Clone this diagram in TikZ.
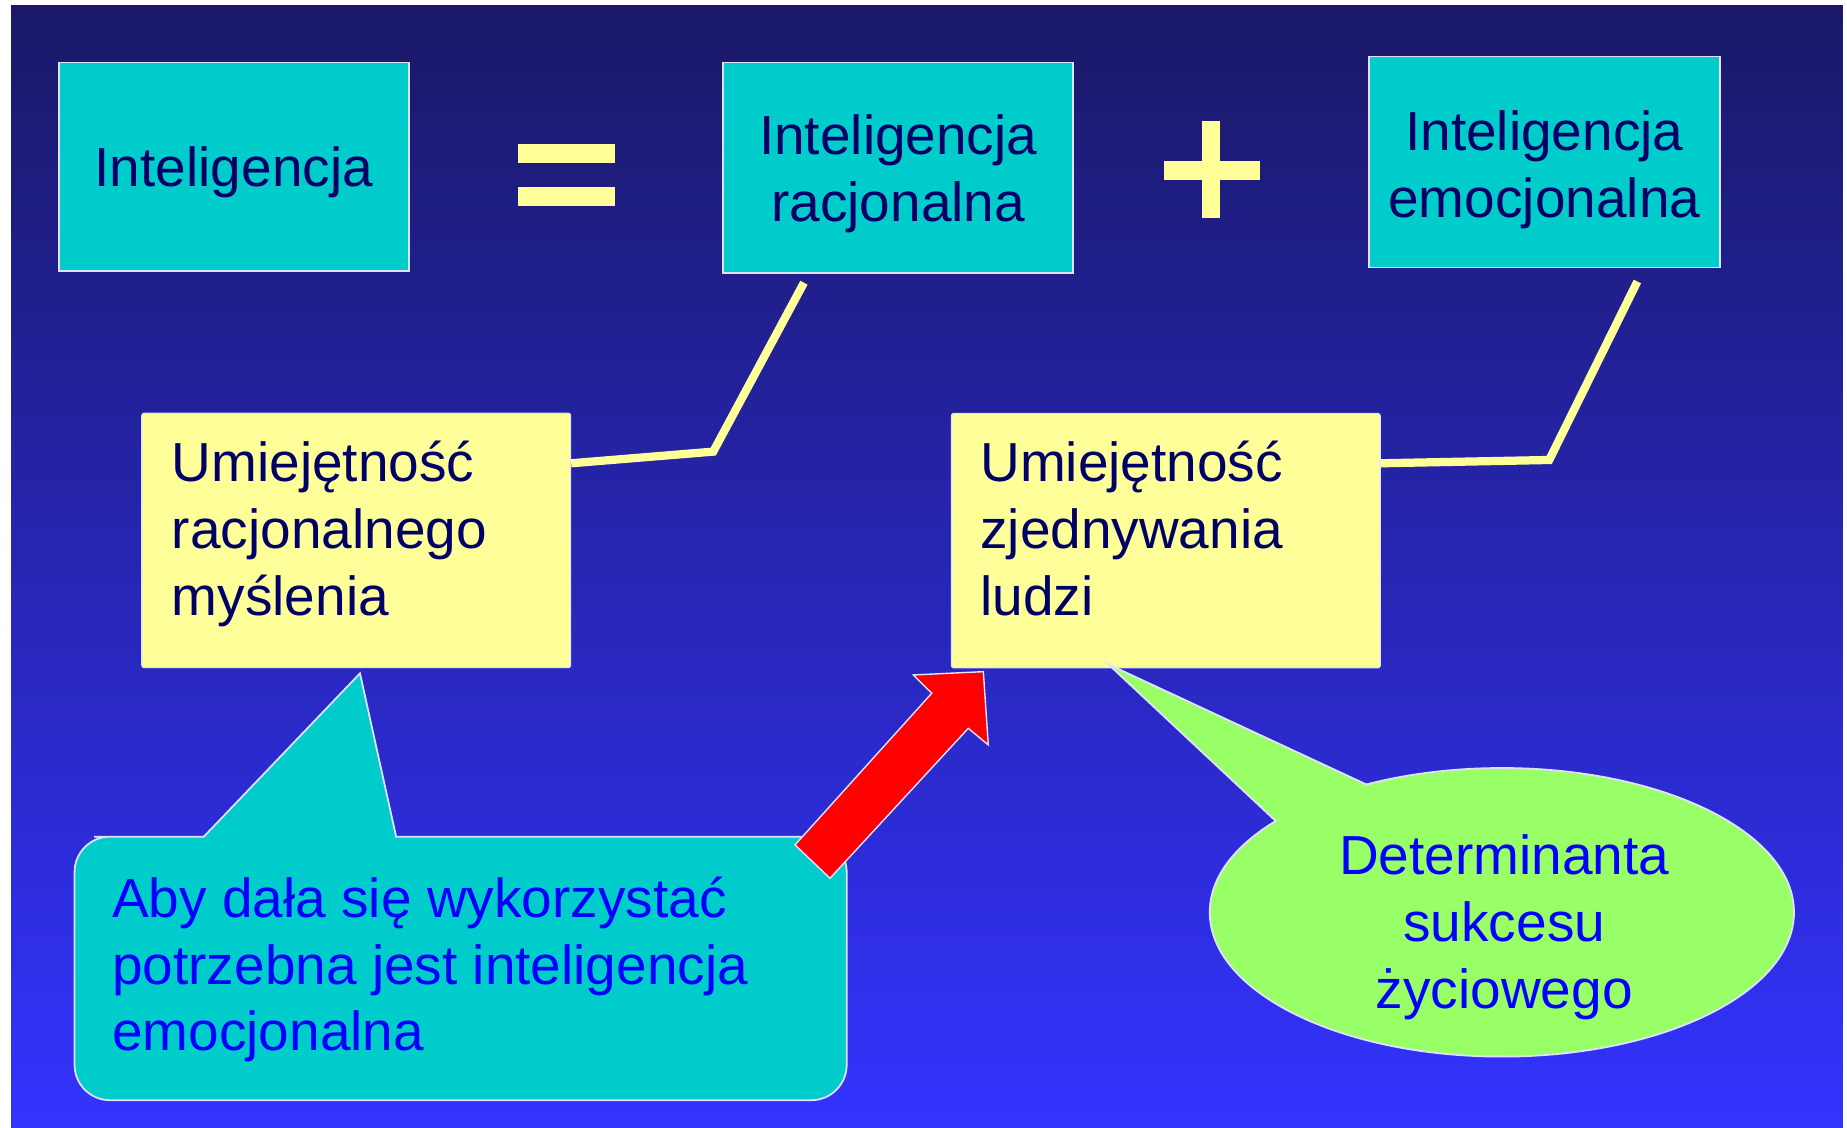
\documentclass[tikz,border=0pt]{standalone}
\usepackage{fontspec}
\setmainfont{Liberation Sans}
\usetikzlibrary{shapes.geometric}
\definecolor{bgtop}{RGB}{26,24,102}
\definecolor{bgbot}{RGB}{51,51,255}
\definecolor{cyanbox}{RGB}{0,204,204}
\definecolor{yelbox}{RGB}{255,255,153}
\definecolor{greenell}{RGB}{153,255,102}
\definecolor{navytxt}{RGB}{0,0,102}
\definecolor{bluetxt}{RGB}{0,0,255}
\definecolor{rimcol}{RGB}{225,225,255}
\definecolor{signcol}{RGB}{255,255,153}
\definecolor{redarrow}{RGB}{255,0,0}
\begin{document}
\begin{tikzpicture}[x=1pt,y=-1pt,
  bigtxt/.style={font=\fontsize{46.7}{56.8}\selectfont},
  cbox/.style={draw=rimcol, line width=1.5pt, fill=cyanbox, inner sep=0pt},
  ctext/.style={bigtxt, text=navytxt, align=center, inner sep=0pt},
  ybox/.style={draw=rimcol, line width=1pt, fill=yelbox, minimum width=364pt, minimum height=216pt, inner sep=0pt, rounded corners=2pt},
  ytext/.style={bigtxt, text=navytxt, align=left, inner sep=0pt, anchor=north west},
  link/.style={draw=signcol, line width=7pt},
  signbar/.style={fill=signcol},
  rim/.style={draw=rimcol, line width=1.5pt}
]
\useasboundingbox (0,0) rectangle (1568,957);
\fill[white] (0,0) rectangle (1568,957);
\shade[top color=bgtop, bottom color=bgbot] (9.5,5) rectangle (1564.5,957);

% top row
\node[cbox, minimum width=297pt, minimum height=177pt] (A) at (198.5,141.5) {};
\node[ctext] (At) at (198.5,146.5) {Inteligencja};
\node[cbox, minimum width=297pt, minimum height=179pt] (B) at (762.5,142.5) {};
\node[ctext] (Bt) at (762.5,147.5) {Inteligencja\\racjonalna};
\node[cbox, minimum width=298pt, minimum height=179pt] (C) at (1311,137.5) {};
\node[ctext] (Ct) at (1311,144.5) {Inteligencja\\emocjonalna};

% = and +
\fill[signbar] (440,122) rectangle (522,138);
\fill[signbar] (440,159) rectangle (522,175);
\fill[signbar] (988,137) rectangle (1070,153);
\fill[signbar] (1020,103) rectangle (1036,185);

% yellow boxes
\node[ybox] (D) at (302.4,458.8) {};
\node[ytext] (Dt) at (145.7,374.5) {Umiejętność\\racjonalnego\\myślenia};
\node[ybox] (E) at (989.7,459) {};
\node[ytext] (Et) at (832,374.5) {Umiejętność\\zjednywania\\ludzi};

% connectors
\coordinate (b1) at (682.5,240);
\coordinate (c1) at (1390,239);
\draw[link] (b1) -- (605.5,383.4) -- (D.east |- 0,393.3);
\draw[link] (c1) -- (1315.2,390.5) -- (E.east |- 0,393.3);

% cyan callout
\filldraw[fill=cyanbox, rim] (500,710.3) [rounded corners=30pt] -- (718.8,710.3) -- (718.8,934) -- (63.3,934) -- (63.3,710.3) -- (110,710.3) [sharp corners] -- (140,710.3) -- (173,710.3) -- (305.6,571.6) -- (336.3,710.3) -- (400,710.3) -- cycle;
\node[bigtxt, text=bluetxt, align=left, inner sep=0pt, anchor=north west] (F) at (95,744) {Aby dała się wykorzystać\\potrzebna jest inteligencja\\emocjonalna};

% red arrow
\filldraw[fill=redarrow, draw=rimcol, line width=1.2pt] (674.9,717.3) -- (791,588.5) -- (775.3,573) -- (834.8,570.2) -- (839,632.4) -- (822,618.3) -- (704.6,745.6) -- cycle;

% green callout
\node[ellipse, rim, fill=greenell, minimum width=496pt, minimum height=245pt, inner sep=0pt] (G) at (1275,774.5) {};
\fill[greenell] (941,564) -- (1160,666) -- (1083,697) -- cycle;
\draw[rim] (1160,666) -- (941,564) -- (1083,697);
\node[bigtxt, text=bluetxt, align=center, inner sep=0pt, anchor=north] (Gt) at (1277,708.5) {Determinanta\\sukcesu\\życiowego};
\end{tikzpicture}
\end{document}
